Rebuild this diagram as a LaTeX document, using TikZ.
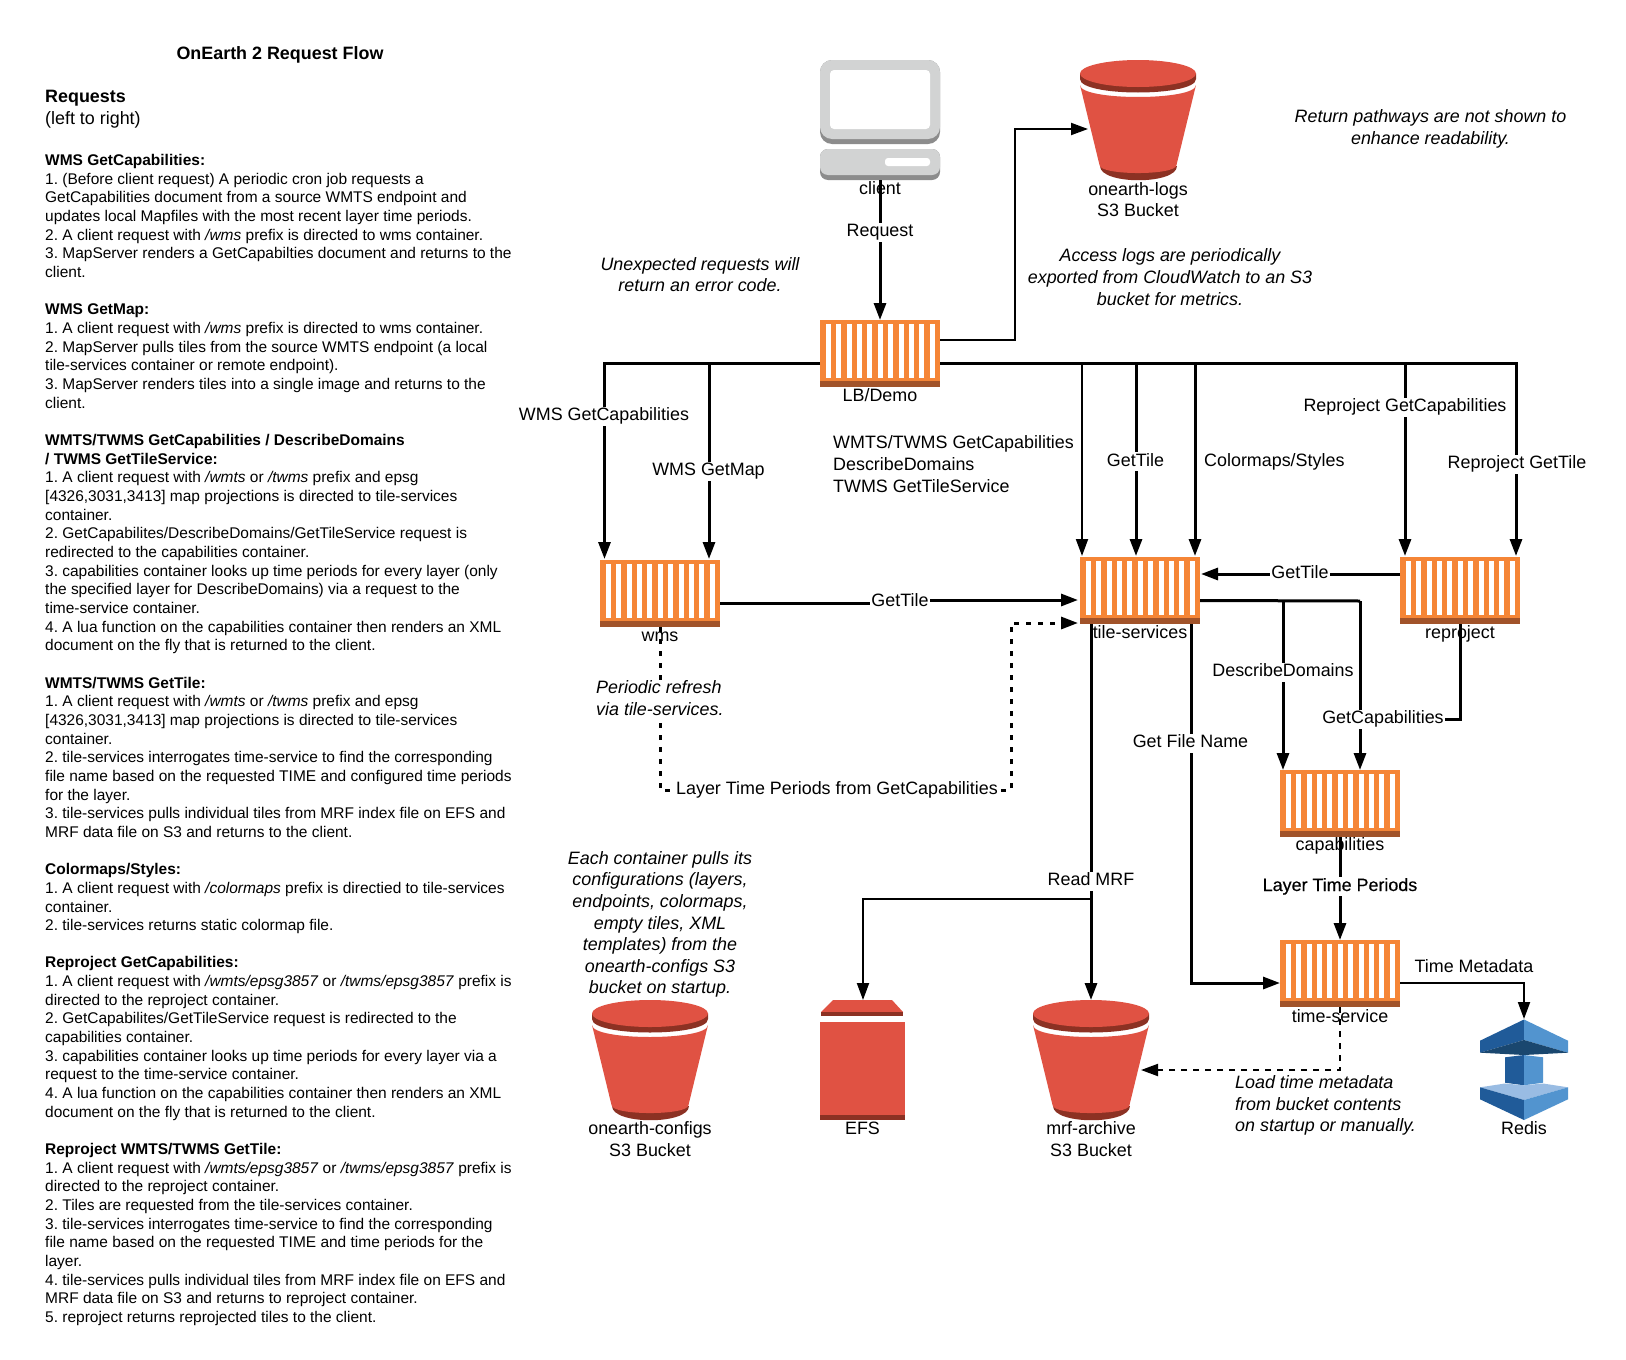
\documentclass[tikz,border=0pt]{standalone}
\usepackage{fontspec}
\setmainfont{Liberation Sans}
\newfontfamily\fakebold[FakeBold=0.35]{Liberation Sans}
\usetikzlibrary{arrows.meta}
\frenchspacing
\newcommand\smtxt{\fontsize{15.48}{18.66}\selectfont}
\newcommand\lgtxt{\fontsize{17.9}{21.6}\selectfont}
\newcommand\fs{\rule{0pt}{13pt}}
\definecolor{ctrorange}{HTML}{F58536}
\definecolor{ctrdark}{HTML}{A1532A}
\definecolor{bktred}{HTML}{E05243}
\definecolor{bktdark}{HTML}{8C3123}
\definecolor{pcgray}{HTML}{D2D3D3}
\definecolor{pcdark}{HTML}{8C8C8C}
\definecolor{rdark}{HTML}{205B99}
\definecolor{rlight}{HTML}{5294CF}
\definecolor{rdeep}{HTML}{1A476F}
\definecolor{rpale}{HTML}{99BCE3}
\tikzset{
  ctrbox/.style={rectangle,fill=ctrorange,minimum width=120pt,minimum height=67pt,inner sep=0pt,outer sep=0pt},
  para/.style={anchor=north west,align=left,inner sep=0pt,font=\smtxt},
  txt/.style={inner sep=0pt,font=\lgtxt,align=center},
  itx/.style={inner sep=0pt,font=\lgtxt\itshape,align=center},
  lab/.style={fill=white,inner sep=1pt,font=\lgtxt,text height=13pt,text depth=4pt,yshift=-2pt},
  conn/.style={draw=black,line width=3pt,-{Triangle[length=17pt,width=12pt]}},
  connthin/.style={draw=black,line width=2pt,-{Triangle[length=17pt,width=12pt]}},
  plainc/.style={draw=black,line width=3pt},
  dotc/.style={draw=black,line width=3pt,dash pattern=on 5pt off 7pt,-{Triangle[length=17pt,width=12pt]}},
  dotthin/.style={draw=black,line width=2pt,dash pattern=on 6pt off 6pt,-{Triangle[length=17pt,width=12pt]}},
}
\newcommand\ctr[3]{%
  \node[ctrbox] (#1) at (#2+60,#3+33.5) {};
  \foreach \i in {0,...,10} \fill[white] (#2+5.7+10.4*\i,#3+4) rectangle ++(5,54);
  \fill[ctrdark] (#2,#3+61) rectangle ++(120,6);
}
\newcommand\bucket[3]{%
  \node[rectangle,minimum width=116pt,minimum height=120pt,inner sep=0pt,outer sep=0pt] (#1) at (#2,#3+60) {};
  \begin{scope}[shift={(#2,#3)}]
    \fill[bktdark] (-38.5,106) .. controls (-38.5,124.7) and (38.5,124.7) .. (38.5,106) -- cycle;
    \fill[bktred] (-58,25) .. controls (-58,41) and (58,41) .. (58,25) -- (38.5,105) .. controls (38.5,115.7) and (-38.5,115.7) .. (-38.5,105) -- cycle;
    \fill[bktdark] (-58,13.5) -- (-58,19) .. controls (-58,37) and (58,37) .. (58,19) -- (58,13.5) -- cycle;
    \fill[bktred] (0,13.5) ellipse [x radius=58pt,y radius=13.5pt];
  \end{scope}
}
\begin{document}
\begin{tikzpicture}[x=1pt,y=-1pt]
\useasboundingbox (0,0) rectangle (1626,1360);
\fill[white] (0,0) rectangle (1626,1360);

% client
\node[rectangle,minimum width=120pt,minimum height=120pt,inner sep=0pt,outer sep=0pt] (client) at (880,120) {};
\fill[pcdark,rounded corners=12pt] (820,60) rectangle (940,144);
\fill[pcgray,rounded corners=12pt] (820,60) rectangle (940,139);
\fill[white,rounded corners=4pt] (830,70) rectangle (930,129);
\fill[pcdark,rounded corners=8pt] (820,149) rectangle (940,180);
\fill[pcgray,rounded corners=8pt] (820,149) rectangle (940,175);
\fill[white,rounded corners=3pt] (885,158) rectangle (930,166);

% containers
\ctr{lb}{820}{320}
\ctr{wms}{600}{560}
\ctr{tile}{1080}{557}
\ctr{repro}{1400}{557}
\ctr{caps}{1280}{770}
\ctr{time}{1280}{940}

% buckets
\bucket{logs}{1138}{60}
\bucket{cfg}{650}{1000}
\bucket{mrf}{1091}{1000}

% EFS
\node[rectangle,minimum width=85pt,minimum height=120pt,inner sep=0pt,outer sep=0pt] (efs) at (862.5,1060) {};
\fill[bktred] (833,1000) -- (892,1000) -- (903,1012) -- (821,1012) -- cycle;
\fill[bktdark] (821,1012) rectangle (903,1016);
\fill[bktred] (820,1022) rectangle (905,1115);
\fill[bktdark] (820,1115) rectangle (905,1120);

% Redis
\node[rectangle,minimum width=88pt,minimum height=101pt,inner sep=0pt,outer sep=0pt] (redis) at (1524,1069.5) {};
\fill[rdark] (1524,1019.5) -- (1480,1040.7) -- (1480,1052.7) -- (1524,1040) -- cycle;
\fill[rlight] (1524,1019.5) -- (1568,1040.7) -- (1568,1052.7) -- (1524,1040) -- cycle;
\fill[rdeep] (1480,1052.7) -- (1524,1040) -- (1568,1052.7) -- (1524,1055) -- cycle;
\fill[rdark] (1505,1057.3) -- (1524,1055) -- (1524,1085.3) -- (1505,1082.7) -- cycle;
\fill[rlight] (1543,1057.3) -- (1524,1055) -- (1524,1085.3) -- (1543,1082.7) -- cycle;
\fill[rpale] (1480,1087.3) -- (1505,1083.5) -- (1524,1085.3) -- (1543,1083.5) -- (1568,1087.3) -- (1524,1100) -- cycle;
\fill[rdark] (1480,1087.3) -- (1524,1100) -- (1524,1120) -- (1480,1099.3) -- cycle;
\fill[rlight] (1568,1087.3) -- (1524,1100) -- (1524,1120) -- (1568,1099.3) -- cycle;

% junctions
\coordinate (jmrf) at (1091,899);
\coordinate (jdd) at (1283,601);
\coordinate (jcap) at (1360,601);
\coordinate (jrep) at (1360,719);
\coordinate (jd) at (660,790);
\coordinate (jdr) at (1011,790);
\coordinate (jt) at (1340,1070);
\coordinate (jwt) at (900,603);
\coordinate (jwu) at (900,600);
\coordinate (b1) at (709,363);
\coordinate (b2) at (1082,363);
\coordinate (b3) at (1136,363);
\coordinate (b4) at (1195,363);
\coordinate (b5) at (1405,363);

% connectors
\draw[conn] (client.south) -- (lb.north);
\draw[connthin] ([yshift=13.5pt]lb.east) -- ++(75,0) |- ([xshift=8pt,yshift=-9pt]logs.west);
\draw[conn] ([yshift=-9.5pt]lb.west) -| ([xshift=4.5pt,yshift=1pt]wms.north west);
\draw[conn] (b1) -- ([xshift=-11pt,yshift=1pt]wms.north east);
\draw[conn] ([yshift=-9.5pt]lb.east) -| ([xshift=-4pt,yshift=1pt]repro.north east);
\draw[connthin] (b2) -- ([xshift=2pt,yshift=1pt]tile.north west);
\draw[conn] (b3) -- ([xshift=-4pt,yshift=1pt]tile.north);
\draw[conn] (b4) -- ([xshift=-5pt,yshift=1pt]tile.north east);
\draw[conn] (b5) -- ([xshift=5pt,yshift=1pt]repro.north west);
\draw[conn] ([yshift=16.5pt]repro.west) -- ([xshift=1pt,yshift=16.5pt]tile.east);
\draw[conn] ([yshift=-9.5pt]wms.east) -- (jwt) -- (jwu) -- ([xshift=-2pt,yshift=-9.5pt]tile.west);
\draw[dotc] (wms.south) -- (jd) -- (jdr) |- ([xshift=-2pt,yshift=-32.5pt]tile.west);
\draw[plainc] ([yshift=-10pt]tile.east) -- (jcap);
\draw[conn] (jcap) -- ([xshift=20pt]caps.north);
\draw[conn] (jdd) -- ([xshift=3pt]caps.north west);
\draw[plainc] (repro.south) |- (jrep);
\draw[conn] (caps.south) -- (time.north);
\draw[conn] ([xshift=11pt]tile.south west) -- (jmrf) -- (mrf.north);
\draw[connthin] (jmrf) -| ([xshift=0.5pt]efs.north);
\draw[conn] ([xshift=-9pt]tile.south east) |- ([yshift=-9.5pt]time.west);
\draw[connthin] ([yshift=-9.5pt]time.east) -| (redis.north);
\draw[dotthin] (time.south) -- (jt) -- ([xshift=50pt,yshift=-10pt]mrf.center);

% node labels
\node[txt] (tclient) at (880,188) {client};
\node[txt] (tlb) at (880,395) {LB/Demo};
\node[txt] (twms) at (660,637) {wms};
\node[txt] (ttile) at (1140,632) {tile-services};
\node[txt] (trepro) at (1460,634) {reproject};
\node[txt] (tcaps) at (1340,846) {capabilities};
\node[txt] (ttime) at (1340,1016) {time-service};
\node[txt] (tlogs) at (1138,199.5) {onearth-logs\\S3 Bucket};
\node[txt] (tcfg) at (650,1139) {onearth-configs\\S3 Bucket};
\node[txt] (tmrf) at (1091,1139) {mrf-archive\\S3 Bucket};
\node[txt] (tefs) at (862.5,1128) {EFS};
\node[txt] (tredis) at (1524,1128) {Redis};

% connector labels
\node[lab] (l1) at (880,230) {Request};
\node[lab] (l2) at (604,414) {WMS GetCapabilities};
\node[lab] (l3) at (708.5,469) {WMS GetMap};
\node[txt,anchor=west,align=left] (l4) at (833,464) {WMTS/TWMS GetCapabilities\\DescribeDomains\\TWMS GetTileService};
\node[lab] (l5) at (1135.5,459.5) {GetTile};
\node[lab,anchor=west,fill=none] (l6) at (1203,459.5) {Colormaps/Styles};
\node[lab] (l7) at (1405,405) {Reproject GetCapabilities};
\node[lab] (l8) at (1517,462) {Reproject GetTile};
\node[lab] (l9) at (1300,571.5) {GetTile};
\node[lab] (l10) at (900,599.5) {GetTile};
\node[lab] (l11) at (1283,670) {DescribeDomains};
\node[lab] (l12) at (1383,717) {GetCapabilities};
\node[lab] (l13) at (1190.5,741) {Get File Name};
\node[lab] (l14) at (1091,879) {Read MRF};
\node[lab,font=\lgtxt\fakebold] (l15) at (1340,884.5) {Layer Time Periods};
\node[lab,fill=none] (l16) at (1474,966) {Time Metadata};
\node[lab] (l17) at (837,788) {Layer Time Periods from GetCapabilities};

% italic notes
\node[itx] (n1) at (1430.5,129) {Return pathways are not shown to\\enhance readability.};
\node[itx] (n2) at (1170,277) {Access logs are periodically\\exported from CloudWatch to an S3\\bucket for metrics.};
\node[itx] (n3) at (700,274.5) {Unexpected requests will\\return an error code.};
\node[itx,anchor=west,align=left,fill=white,inner sep=1pt] (n4) at (595,698) {Periodic refresh\\via tile-services.};
\node[itx] (n5) at (660,924.5) {Each container pulls its\\configurations (layers,\\endpoints, colormaps,\\empty tiles, XML\\templates) from the\\onearth-configs S3\\bucket on startup.};
\node[itx,anchor=west,align=left] (n6) at (1235,1105.5) {Load time metadata\\from bucket contents\\on startup or manually.};

% left column
\node[txt,font=\lgtxt\bfseries] (title) at (280,55) {OnEarth 2 Request Flow};
\node[txt,anchor=north west,align=left] (req) at (45,90) {\textbf{Requests}\\(left to right)};

\node[para] (s1) at (45,152.4) {\fs\textbf{WMS GetCapabilities:}\\
1. (Before client request) A periodic cron job requests a\\
GetCapabilities document from a source WMTS endpoint and\\
updates local Mapfiles with the most recent layer time periods.\\
2. A client request with \textit{/wms} prefix is directed to wms container.\\
3. MapServer renders a GetCapabilties document and returns to the\\
client.};

\node[para] (s2) at (45,301.68) {\fs\textbf{WMS GetMap:}\\
1. A client request with \textit{/wms} prefix is directed to wms container.\\
2. MapServer pulls tiles from the source WMTS endpoint (a local\\
tile-services container or remote endpoint).\\
3. MapServer renders tiles into a single image and returns to the\\
client.};

\node[para] (s3) at (45,432.3) {\fs\textbf{WMTS/TWMS GetCapabilities / DescribeDomains}\\
\textbf{/ TWMS GetTileService:}\\
1. A client request with \textit{/wmts} or \textit{/twms} prefix and epsg\\
{[}4326,3031,3413] map projections is directed to tile-services\\
container.\\
2. GetCapabilites/DescribeDomains/GetTileService request is\\
redirected to the capabilities container.\\
3. capabilities container looks up time periods for every layer (only\\
the specified layer for DescribeDomains) via a request to the\\
time-service container.\\
4. A lua function on the capabilities container then renders an XML\\
document on the fly that is returned to the client.};

\node[para] (s4) at (45,674.88) {\fs\textbf{WMTS/TWMS GetTile:}\\
1. A client request with \textit{/wmts} or \textit{/twms} prefix and epsg\\
{[}4326,3031,3413] map projections is directed to tile-services\\
container.\\
2. tile-services interrogates time-service to find the corresponding\\
file name based on the requested TIME and configured time periods\\
for the layer.\\
3. tile-services pulls individual tiles from MRF index file on EFS and\\
MRF data file on S3 and returns to the client.};

\node[para] (s5) at (45,861.48) {\fs\textbf{Colormaps/Styles:}\\
1. A client request with \textit{/colormaps} prefix is directied to tile-services\\
container.\\
2. tile-services returns static colormap file.};

\node[para] (s6) at (45,954.78) {\fs\textbf{Reproject GetCapabilities:}\\
1. A client request with \textit{/wmts/epsg3857} or \textit{/twms/epsg3857} prefix is\\
directed to the reproject container.\\
2. GetCapabilites/GetTileService request is redirected to the\\
capabilities container.\\
3. capabilities container looks up time periods for every layer via a\\
request to the time-service container.\\
4. A lua function on the capabilities container then renders an XML\\
document on the fly that is returned to the client.};

\node[para] (s7) at (45,1141.38) {\fs\textbf{Reproject WMTS/TWMS GetTile:}\\
1. A client request with \textit{/wmts/epsg3857} or \textit{/twms/epsg3857} prefix is\\
directed to the reproject container.\\
2. Tiles are requested from the tile-services container.\\
3. tile-services interrogates time-service to find the corresponding\\
file name based on the requested TIME and time periods for the\\
layer.\\
4. tile-services pulls individual tiles from MRF index file on EFS and\\
MRF data file on S3 and returns to reproject container.\\
5. reproject returns reprojected tiles to the client.};
\end{tikzpicture}
\end{document}
